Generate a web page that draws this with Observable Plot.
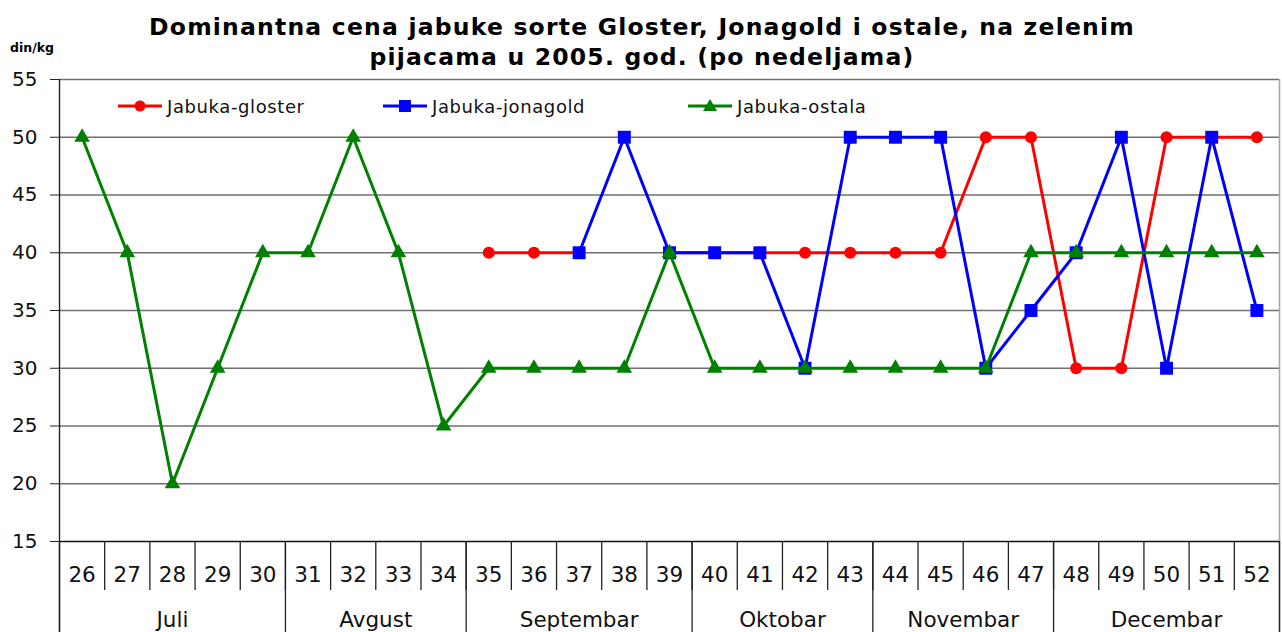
<!DOCTYPE html>
<html>
<head>
<meta charset="utf-8">
<script src="https://cdn.jsdelivr.net/npm/d3@7"></script>
<script src="https://cdn.jsdelivr.net/npm/@observablehq/plot@0.6"></script>
<style>
  html, body { margin: 0; padding: 0; background: #fff; }
  #wrap { position: relative; width: 1282px; height: 632px; overflow: hidden; }
  #wrap svg.plot { position: absolute; left: 0; top: 0; }
  .title { position: absolute; left: 0; width: 1284px; text-align: center; font-family: "DejaVu Sans", sans-serif; font-weight: bold; font-size: 23.5px; letter-spacing: 1.2px; color: #000; white-space: nowrap; line-height: 28px; }
  #unit { position: absolute; left: 10px; top: 40px; font-family: "DejaVu Sans", sans-serif; font-weight: bold; font-size: 12.5px; color: #000; }
  #legend { position: absolute; top: 94px; left: 0; height: 24px; width: 1282px; font-family: "DejaVu Sans", sans-serif; font-size: 18px; letter-spacing: 0.6px; color: #111; }
  .li { position: absolute; top: 0; display: flex; align-items: center; height: 24px; }
  .li svg { display: block; margin-right: 5px; }
</style>
</head>
<body>
<div id="wrap"></div>
<script>
// ---- data ----
const weeks = [26,27,28,29,30,31,32,33,34,35,36,37,38,39,40,41,42,43,44,45,46,47,48,49,50,51,52];
const gloster  = [null,null,null,null,null,null,null,null,null,40,40,40,null,40,40,40,40,40,40,40,50,50,30,30,50,50,50];
const jonagold = [null,null,null,null,null,null,null,null,null,null,null,40,50,40,40,40,30,50,50,50,30,35,40,50,30,50,35];
const ostala   = [50,40,20,30,40,40,50,40,25,30,30,30,30,40,30,30,30,30,30,30,30,40,40,40,40,40,40];
const months      = ["Juli","Avgust","Septembar","Oktobar","Novembar","Decembar"];
const monthFirst  = [26,31,35,40,44,48];
const monthLast   = [30,34,39,43,47,52];
const yTicks = [15,20,25,30,35,40,45,50,55];
const seriesNames  = ["Jabuka-gloster","Jabuka-jonagold","Jabuka-ostala"];
const seriesColors = ["#ff0000","#0000ff","#008000"];
const titleLines = ["Dominantna cena jabuke sorte Gloster, Jonagold i ostale, na zelenim", "pijacama u 2005. god. (po nedeljama)"];
const unitLabel = "din/kg";

// ---- tables ----
const mk = (arr) => weeks.map((w, i) => ({week: w, value: arr[i] == null ? NaN : arr[i]}));
const G = mk(gloster), J = mk(jonagold), O = mk(ostala);
const weekBounds = weeks.slice(1).map(w => w - 0.5);
const monthBounds = monthFirst.map(w => w - 0.5).concat([monthLast[monthLast.length - 1] + 0.5]);
const monthTable = months.map((m, i) => ({name: m, mid: (monthFirst[i] + monthLast[i]) / 2}));
const font = "DejaVu Sans, sans-serif";
const gridGray = "#6f6f6f";

const chart = Plot.plot({
  width: 1282,
  height: 632,
  marginTop: 79,
  marginBottom: 91,
  marginLeft: 59,
  marginRight: 3,
  style: {fontFamily: font, background: "transparent", overflow: "visible"},
  x: {type: "linear", domain: [weeks[0] - 0.5, weeks[weeks.length - 1] + 0.5], axis: null},
  y: {domain: [15, 55], axis: null},
  marks: [
    // grid
    Plot.gridY(yTicks.slice(1), {stroke: gridGray, strokeOpacity: 1, strokeWidth: 1.6}),
    Plot.ruleX([weeks[weeks.length - 1] + 0.5], {stroke: "#a8a8a8", strokeWidth: 1.6}),
    Plot.ruleX([weeks[weeks.length - 1] + 0.5], {stroke: "#222", strokeWidth: 1.3, insetTop: 462, insetBottom: -91}),
    // y axis
    Plot.axisY(yTicks, {label: null, tickSize: 9, tickPadding: 13, fontSize: 20, stroke: "#222", fill: "#111"}),
    Plot.ruleX([weeks[0] - 0.5], {stroke: "#222", strokeWidth: 1.4, insetBottom: -91}),
    Plot.ruleY([15], {stroke: "#111", strokeWidth: 1.6}),
    // category table
    Plot.ruleX(weekBounds, {stroke: "#222", strokeWidth: 1.3, insetTop: 462, insetBottom: -49}),
    Plot.ruleX(monthBounds, {stroke: "#222", strokeWidth: 1.3, insetTop: 462, insetBottom: -91}),
    Plot.text(weeks, {x: d => d, text: d => String(d), frameAnchor: "bottom", dy: 40, fontSize: 21.5, fill: "#111"}),
    Plot.text(monthTable, {x: "mid", text: "name", frameAnchor: "bottom", dy: 85, fontSize: 21.5, fill: "#111"}),
    // series
    Plot.line(G, {x: "week", y: "value", stroke: seriesColors[0], strokeWidth: 3}),
    Plot.dot(G, {x: "week", y: "value", fill: seriesColors[0], r: 6, symbol: "circle"}),
    Plot.line(J, {x: "week", y: "value", stroke: seriesColors[1], strokeWidth: 3}),
    Plot.dot(J, {x: "week", y: "value", fill: seriesColors[1], r: 7.3, symbol: "square"}),
    Plot.line(O, {x: "week", y: "value", stroke: seriesColors[2], strokeWidth: 3}),
    Plot.dot(O, {x: "week", y: "value", fill: seriesColors[2], r: 5.8, symbol: "triangle"})
  ]
});
const wrap = document.getElementById("wrap");
wrap.appendChild(chart);

// ---- titles ----
titleLines.forEach((t, i) => {
  const d = document.createElement("div");
  d.className = "title";
  d.style.top = (13 + i * 30) + "px";
  d.textContent = t;
  wrap.appendChild(d);
});
const u = document.createElement("div");
u.id = "unit";
u.textContent = unitLabel;
wrap.appendChild(u);

// ---- legend ----
const legendLeft = [118, 383, 688];
const symbols = [
  '<circle cx="22" cy="12" r="5.5" fill="COL"/>',
  '<rect x="16" y="6" width="12" height="12" fill="COL"/>',
  '<polygon points="22,5 29,17 15,17" fill="COL"/>'
];
const legend = document.createElement("div");
legend.id = "legend";
wrap.appendChild(legend);
seriesNames.forEach((name, i) => {
  const d = document.createElement("div");
  d.className = "li";
  d.style.left = legendLeft[i] + "px";
  d.innerHTML = '<svg width="44" height="24"><line x1="0" y1="12" x2="44" y2="12" stroke="' + seriesColors[i] + '" stroke-width="3"/>' +
    symbols[i].replace("COL", seriesColors[i]) + '</svg><span>' + name + '</span>';
  legend.appendChild(d);
});
</script>
</body>
</html>
